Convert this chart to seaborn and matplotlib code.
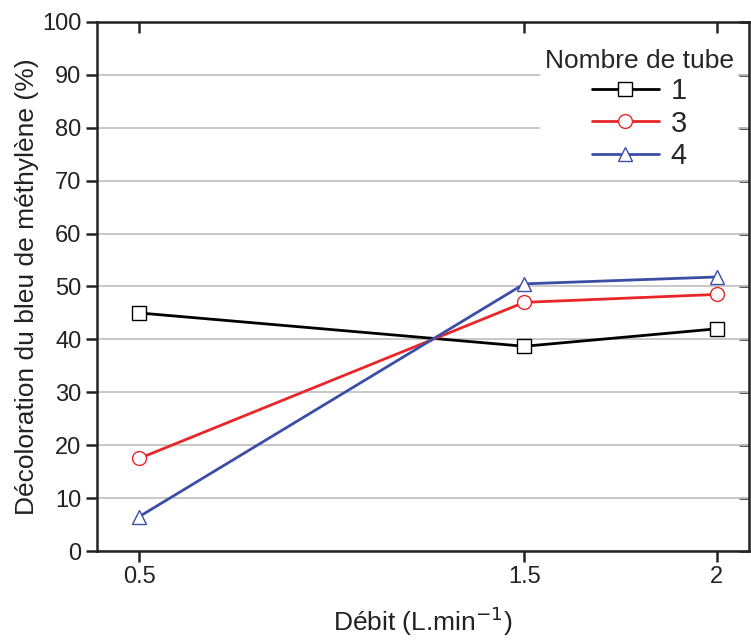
import numpy as np
import pandas as pd
import matplotlib
matplotlib.use("Agg")
import matplotlib.pyplot as plt
import seaborn as sns

# ---------------- DATA ----------------
debit = [0.5, 1.5, 2.0]
tube_1 = [45.0, 38.7, 42.0]
tube_3 = [17.5, 47.0, 48.5]
tube_4 = [6.5, 50.5, 51.8]
tube_labels = ["1", "3", "4"]

colors = ["#000000", "#e8262a", "#3b4ea6"]
markers = ["s", "o", "^"]

df = pd.DataFrame({
    "Débit": debit * 3,
    "Décoloration": tube_1 + tube_3 + tube_4,
    "Tube": [t for t in tube_labels for _ in debit],
})

# ---------------- STYLE ----------------
sns.set_style("ticks")
plt.rcParams["font.family"] = ["Liberation Sans", "DejaVu Sans"]

fig = plt.figure(figsize=(7.51, 6.41), dpi=100)
ax = fig.add_axes([0.129, 0.1404, 0.869, 0.8253])

sns.lineplot(
    data=df,
    x="Débit",
    y="Décoloration",
    hue="Tube",
    style="Tube",
    markers=dict(zip(tube_labels, markers)),
    dashes=False,
    palette=dict(zip(tube_labels, colors)),
    markersize=10,
    markeredgewidth=1.0,
    linewidth=2.0,
    ax=ax,
)
for line, c in zip(ax.lines, colors):
    line.set_markeredgecolor(c)
    line.set_markerfacecolor("white")

ax.set_xlim(0.39, 2.085)
ax.set_ylim(0, 100)
ax.set_xticks(debit)
ax.set_xticklabels(["0.5", "1.5", "2"])
ax.set_yticks(np.arange(0, 101, 10))
ax.yaxis.grid(True, color="#c4c4c4", linewidth=1.3)
ax.set_axisbelow(True)

for s in ax.spines.values():
    s.set_linewidth(1.8)
    s.set_color("#222222")

ax.tick_params(axis="both", which="major", labelsize=17, direction="out",
               length=8, width=1.8, pad=3, colors="#222222")
# mirrored ticks on top and right, pointing in
ax2 = ax.secondary_xaxis("top")
ax2.set_xticks(debit)
ax2.tick_params(direction="in", length=8, width=1.8)
ax2.set_xticklabels([])
ax3 = ax.secondary_yaxis("right")
ax3.set_yticks(np.arange(0, 101, 10))
ax3.tick_params(direction="in", length=7, width=1.8)
ax3.set_yticklabels([])

ax.set_xlabel("Débit (L.min$^{-1}$)", fontsize=19, labelpad=12, color="#222222")
ax.set_ylabel("Décoloration du bleu de méthylène (%)", fontsize=19,
              labelpad=2, color="#222222")

handles, labels = ax.get_legend_handles_labels()
for h, c in zip(handles, colors):
    h.set_markeredgecolor(c)
    h.set_markerfacecolor("white")
leg = ax.legend(
    handles, labels,
    title="Nombre de tube",
    loc="upper right",
    bbox_to_anchor=(1.005, 0.985),
    fontsize=21,
    title_fontsize=19,
    frameon=True,
    facecolor="white",
    edgecolor="none",
    framealpha=1,
    handlelength=2.3,
    handletextpad=0.4,
    labelspacing=0.15,
    borderpad=0.15,
)

fig.savefig("out.png", dpi=100)
